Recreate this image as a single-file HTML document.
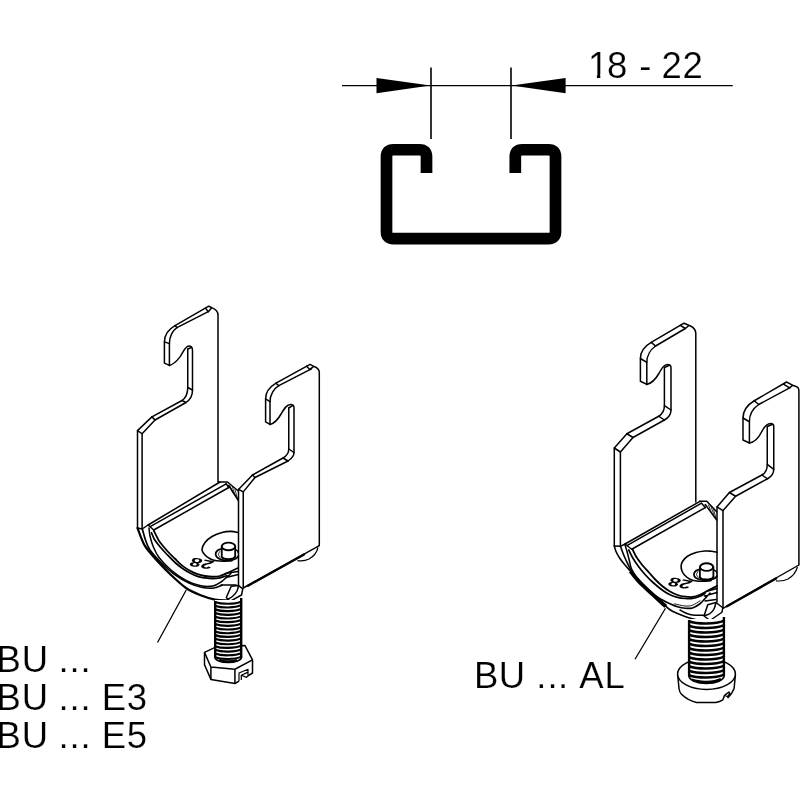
<!DOCTYPE html>
<html lang="en">
<head>
<meta charset="utf-8">
<title>BU clamp drawing</title>
<style>
html,body{margin:0;padding:0;background:#fff;}
body{width:800px;height:800px;overflow:hidden;}
svg{display:block;will-change:transform;filter:grayscale(1);}
</style>
</head>
<body>
<svg width="800" height="800" viewBox="0 0 800 800">
<rect width="800" height="800" fill="#fff"/>
<g id="dim" stroke="#000" stroke-width="1.3" fill="none">
<path d="M342,85.6 H732.8"/>
<path d="M431,67.5 V139 M511,67.5 V139" stroke-width="1.6"/>
<path d="M376.5,78 L430.5,85.6 L376.5,93.2 Z" fill="#000" stroke="none"/>
<path d="M565.6,78 L511.5,85.6 L565.6,93.2 Z" fill="#000" stroke="none"/>
</g>
<path id="cprofile" d="M426.5,173 V156.75 Q426.5,149.75 419.5,149.75 H393.5 Q386.5,149.75 386.5,156.75 V231.65 Q386.5,238.65 393.5,238.65 H548.5 Q555.5,238.65 555.5,231.65 V156.75 Q555.5,149.75 548.5,149.75 H522.3 Q515.3,149.75 515.3,156.75 V173" fill="none" stroke="#000" stroke-width="11.7" stroke-linejoin="round"/>
<g id="labels" font-family='"Liberation Sans", Arial, Helvetica, sans-serif' font-size="36.5" fill="#000" stroke="#fff" stroke-width="0.2">
<text y="77.5" x="588 607 627 639.2 651 661.5 682.6">18 - 22</text>
<text y="671.8" x="-3.6 21.75 48 58.5 69.5 80.5">BU ...</text>
<text y="709.7" x="-3.6 21.75 48 58.5 69.5 80.5 91 101.8 126.7">BU ... E3</text>
<text y="747.6" x="-3.6 21.75 48 58.5 69.5 80.5 91 101.8 126.7">BU ... E5</text>
<text y="688.4" x="473.9 498.75 525 536.25 547.4 558.1 569 579.2 604.5">BU ... AL</text>
</g>
<rect x="589.5" y="74.3" width="7.4" height="4.2" fill="#fff"/><rect x="600.3" y="74.3" width="7.6" height="4.2" fill="#fff"/>
<path d="M186.25,590 L157.5,642.5 M665.5,608.25 L635,659.25" stroke="#000" stroke-width="1.3" fill="none"/>
<g id="clampL" stroke="#000" stroke-width="1.5" fill="none" stroke-linejoin="round" stroke-linecap="round">
<path d="M218,482 V315 C218,311.8 215.5,309.3 212.3,307.9 L208.75,306.2 L175,325.6 C169,329 164.4,335 164.4,341.9 V363.1 L169.4,365.4"/>
<path d="M208.3,311.7 L176.9,327.6 C172.5,330.5 169.4,337 169.4,343.4 V365.4"/>
<path d="M205.6,308.2 L208.3,311.7 L211.3,308.3 M175,325.6 L176.9,327.6 M164.4,341.9 L169.4,343.6"/>
<path d="M169.4,365.4 C173.5,364.6 176.6,361.3 180,356.9 C182.8,353 183.8,349.3 186.6,347 C188.2,345.8 190,345.6 191.3,346.8 C192.2,347.7 192.5,349 192.5,350.6 V390 C192.5,395 190.5,399.5 186,402.5 L155,420 L142.1,433.75 V528"/>
<path d="M187.75,349 V387.5 C187.75,393 185.5,398 182,400.5 L151.9,416.9 L137.5,430.6 V528"/>
<path d="M187.75,387.5 L192.5,390 M182,400.5 L186,402.5 M151.9,416.9 L155,420 M137.5,430.6 L142.1,433.75 M187.75,349 L191.5,347.5"/>
<path d="M319.3,545.6 V372.6 C319.3,370 317.5,368 314.8,366.8 L310,364.4 L276,383.2 C270.5,386.5 265.6,392 265.6,398.8 V421.9 L270,424.4"/>
<path d="M311.4,368.8 L278.8,385.7 C274,388.5 270,395 270,401.6 V424.4"/>
<path d="M306.6,366.3 L309.8,369.6 L313.3,366.6 M276,383.2 L278.8,385.7 M265.6,398.8 L270,401.6"/>
<path d="M270,424.4 C275,423.5 278.5,418.5 281.25,413.75 C284,409 286.5,404.4 290.6,404.4 C292.5,404.4 294,405.5 294,407.5 V452.5 C294,456 291,459 288,461 L255,477.5 L243.25,491.9 V588"/>
<path d="M288.75,408 V449 C288.75,453 286.5,456 283,458 L252.5,475 L238.5,489.4 V588"/>
<path d="M288.75,449 L294,452.5 M283,458 L288,461 M252.5,475 L255,477.5 M238.5,489.4 L243.25,491.9 M288.75,408 L292.5,405.6"/>
</g>
<path d="M243.25,588 L319.3,545.6" stroke="#000" stroke-width="1.5" fill="none"/>
<path d="M248,585.7 L304,554.5" stroke="#000" stroke-width="2.4" fill="none" stroke-linecap="round"/>
<path d="M318,547.5 C317,552 313.5,556.5 309,559 C305.5,560.8 301,561 297.5,560.6" stroke="#000" stroke-width="1.2" fill="none"/>
<g id="saddleL" stroke="#000" stroke-width="1.5" fill="none" stroke-linejoin="round" stroke-linecap="round">
<path d="M148.1,525 L220,482 M150.6,526.4 L226.2,483.8 M153.75,530 L228.75,487.5" />
<path d="M218.5,482 L227.5,482 L238.3,491 M228.75,485.5 L238.3,500.5 M226.2,483.8 L228.75,487.5" />
<path d="M230,486 L233,493 M232.5,487.5 L235.5,496.5 M235,489.5 L237.5,499" stroke-width="0.8"/>
<path d="M137.5,528 L142.1,529 L148.1,525 M148.1,525 L153.75,530" />
<path d="M137.50,528.00 C138.17,529.75 140.08,535.25 141.50,538.50 C142.92,541.75 143.12,543.50 146.00,547.50 C148.88,551.50 154.58,557.92 158.75,562.50 C162.92,567.08 166.46,570.75 171.00,575.00 C175.54,579.25 181.17,584.67 186.00,588.00 C190.83,591.33 195.17,593.07 200.00,595.00 C204.83,596.93 210.50,598.72 215.00,599.60 C219.50,600.48 225.00,600.18 227.00,600.30" stroke-width="2.2"/>
<path d="M142.30,529.00 C142.83,530.83 144.22,536.50 145.50,540.00 C146.78,543.50 147.42,546.25 150.00,550.00 C152.58,553.75 157.00,558.50 161.00,562.50 C165.00,566.50 169.33,570.58 174.00,574.00 C178.67,577.42 184.25,580.75 189.00,583.00 C193.75,585.25 198.33,586.67 202.50,587.50 C206.67,588.33 210.75,588.38 214.00,588.00 C217.25,587.62 220.67,585.67 222.00,585.20" stroke-width="1.7"/>
<path d="M149.00,528.00 C149.17,529.33 149.33,533.00 150.00,536.00 C150.67,539.00 151.50,542.42 153.00,546.00 C154.50,549.58 156.00,553.50 159.00,557.50 C162.00,561.50 166.50,566.20 171.00,570.00 C175.50,573.80 181.00,577.67 186.00,580.30 C191.00,582.93 196.50,584.85 201.00,585.80 C205.50,586.75 209.67,586.63 213.00,586.00 C216.33,585.37 218.58,583.58 221.00,582.00 C223.42,580.42 226.42,577.42 227.50,576.50" />
<path d="M153.75,530.50 C154.38,531.75 156.46,536.04 157.50,538.00 C158.54,539.96 158.33,540.04 160.00,542.25 C161.67,544.46 165.00,548.50 167.50,551.25 C170.00,554.00 172.50,556.31 175.00,558.75 C177.50,561.19 180.00,563.90 182.50,565.90 C185.00,567.90 187.50,569.38 190.00,570.75 C192.50,572.12 195.00,573.23 197.50,574.10 C200.00,574.98 202.50,575.56 205.00,576.00 C207.50,576.44 210.00,576.75 212.50,576.75 C215.00,576.75 217.08,576.83 220.00,576.00 C222.92,575.17 227.00,573.08 230.00,571.75 C233.00,570.42 236.67,568.62 238.00,568.00" stroke-width="1.8"/>
<path d="M151.50,532.75 C152.00,533.88 153.08,537.17 154.50,539.50 C155.92,541.83 157.83,544.17 160.00,546.75 C162.17,549.33 165.00,552.38 167.50,555.00 C170.00,557.62 172.50,560.25 175.00,562.50 C177.50,564.75 180.00,566.75 182.50,568.50 C185.00,570.25 187.50,571.68 190.00,573.00 C192.50,574.32 195.00,575.58 197.50,576.40 C200.00,577.22 202.50,577.53 205.00,577.90 C207.50,578.27 210.00,578.62 212.50,578.60 C215.00,578.58 217.58,578.30 220.00,577.80 C222.42,577.30 225.83,575.97 227.00,575.60" stroke-width="1.7"/>
<path d="M238.30,532.60 C237.08,532.40 233.72,531.43 231.00,531.40 C228.28,531.37 225.17,531.55 222.00,532.40 C218.83,533.25 214.83,534.82 212.00,536.50 C209.17,538.18 206.67,540.33 205.00,542.50 C203.33,544.67 202.08,547.50 202.00,549.50 C201.92,551.50 203.17,552.95 204.50,554.50 C205.83,556.05 208.00,557.75 210.00,558.80 C212.00,559.85 214.00,560.40 216.50,560.80 C219.00,561.20 222.42,561.23 225.00,561.20 C227.58,561.17 230.83,560.70 232.00,560.60" stroke-width="1.6"/>
<path d="M221.75,546.4 V557 M235.2,546.4 V556.5" stroke-width="1.8"/>
<ellipse cx="228.5" cy="546.4" rx="6.75" ry="3.8" stroke-width="1.9"/>
<path d="M221.75,557 C224,560 233,560 235.2,556.5" stroke-width="1.9"/>
<path d="M221.50,549.00 C220.83,549.25 218.48,549.63 217.50,550.50 C216.52,551.37 215.52,552.95 215.60,554.20 C215.68,555.45 216.60,556.98 218.00,558.00 C219.40,559.02 221.83,559.92 224.00,560.30 C226.17,560.68 228.92,560.63 231.00,560.30 C233.08,559.97 235.28,559.02 236.50,558.30 C237.72,557.58 238.00,556.38 238.30,556.00" stroke-width="1.8"/>
<path d="M235.50,549.50 C235.85,549.75 237.13,550.42 237.60,551.00 C238.07,551.58 238.18,552.67 238.30,553.00" stroke-width="1.4"/>
<path d="M219.80,551.50 C219.57,552.00 218.37,553.58 218.40,554.50 C218.43,555.42 219.73,556.58 220.00,557.00" stroke-width="0.9"/>
<path d="M227.5,573 L238.3,571.5 M226,577.5 L238.3,574.5 M221,585 H236 M227.5,576.5 L231,573.5" />
<path d="M231.25,586.25 L238.5,585.6 L242.8,588.8 L241.5,595 L230,601.3 L226.3,597.5 Z" fill="#fff"/>
<path d="M238.50,585.60 C238.25,586.50 237.92,589.27 237.00,591.00 C236.08,592.73 234.50,594.62 233.00,596.00 C231.50,597.38 228.83,598.75 228.00,599.30" />
</g>
<text x="0" y="0" font-family='"Liberation Sans", Arial, Helvetica, sans-serif' font-size="12" font-weight="bold" fill="#000" transform="matrix(-1.68,-0.3,0.6,-1.0,215.2,561.2)">28</text>
<g id="hexL" stroke="#000" stroke-width="1.5" fill="#fff" stroke-linejoin="round">
<path d="M204.50,652.40 L214.60,647.60 L245.00,645.60 L252.50,659.90 L252.50,673.00 L234.90,683.50 L210.90,679.40 L204.50,664.75 Z" stroke="none"/>
<path d="M248,675.8 L252.5,673 V659.9 L245,645.6 L214.6,647.6 L204.5,652.4 V664.75 L210.9,679.4 L234.9,683.5 L239,681.2" fill="none"/>
<path d="M204.5,652.4 L210.9,667 L234.9,669.25 L252.5,659.9 M210.9,667 V679.4 M234.9,669.25 V683.5" fill="none"/>
<path d="M239,681.2 V673 L248,669.3 V675.8 M241.3,680 V675.3 L246.6,677.4 L248,675.8 M241.3,675.3 L247.5,672.4" fill="none" stroke-width="1.2"/>
</g>
<g stroke="#000" fill="none" stroke-linecap="butt">
<rect x="214.90" y="600.00" width="26.60" height="57.30" fill="#fff" stroke="none"/>
<ellipse cx="228.20" cy="657.30" rx="13.30" ry="5.20" fill="#fff" stroke-width="1.7"/>
<rect x="215.70" y="650.10" width="25.00" height="7.20" fill="#fff" stroke="none"/>
<path d="M215.20,601.00 V657.30 M241.20,598.00 V657.30" stroke-width="2.4"/>
<path d="M214.90,602.01 C221.55,604.47 234.85,604.47 241.50,601.41 M214.90,605.69 C221.55,608.15 234.85,608.15 241.50,605.09 M214.90,609.37 C221.55,611.83 234.85,611.83 241.50,608.77 M214.90,613.05 C221.55,615.51 234.85,615.51 241.50,612.45 M214.90,616.73 C221.55,619.19 234.85,619.19 241.50,616.13 M214.90,620.41 C221.55,622.87 234.85,622.87 241.50,619.81 M214.90,624.09 C221.55,626.55 234.85,626.55 241.50,623.49 M214.90,627.77 C221.55,630.23 234.85,630.23 241.50,627.17 M214.90,631.45 C221.55,633.91 234.85,633.91 241.50,630.85 M214.90,635.13 C221.55,637.59 234.85,637.59 241.50,634.53 M214.90,638.81 C221.55,641.27 234.85,641.27 241.50,638.21 M214.90,642.49 C221.55,644.95 234.85,644.95 241.50,641.89 M214.90,646.17 C221.55,648.63 234.85,648.63 241.50,645.57 M214.90,649.85 C221.55,652.31 234.85,652.31 241.50,649.25 M214.90,653.53 C221.55,655.99 234.85,655.99 241.50,652.93 M214.90,657.21 C221.55,659.67 234.85,659.67 241.50,656.61 M219.17,660.89 C223.69,661.32 232.71,661.32 237.23,660.29" stroke-width="2.15"/>
</g>
<g id="clampR" stroke="#000" stroke-width="1.5" fill="none" stroke-linejoin="round" stroke-linecap="round">
<path d="M695.8,502 V333.4 C695.8,330 693.5,327.5 690.5,326 L684,323.2 L651.2,342.4 C645,346 640.4,352 640.4,358.5 V381.25 L646.8,384.4" />
<path d="M685.3,328.5 L655.6,346 C650.5,349.5 646.8,356 646.8,362.4 V384.4" />
<path d="M680.4,325.3 L685.3,328.5 L688.4,326 M651.2,342.4 L655.6,346 M640.4,358.5 L646.8,362.4" />
<path d="M646.8,384.4 C653,383 656,378.5 658.75,373.75 C662,368 664,364.4 667.5,364.4 C669.5,364.4 671,365.5 671,367.5 V410 C671,414 669,417.5 664.4,420 L633,437.5 L620.4,452 V545.5" />
<path d="M664.4,367.5 V405.6 C664.4,410 662.5,414 658.75,416.25 L626.9,433.75 L614.3,448 V545.9" />
<path d="M664.4,405.6 L671,410 M658.75,416.25 L664.4,420 M626.9,433.75 L633,437.5 M614.3,448 L620.4,452 M664.4,367.5 L669.5,365.3" />
<path d="M798.9,565 V391 C798.9,388.5 797.5,386.8 795.5,386.3 L792.5,385.2 L786.5,382 L754.25,400.75 C748,404.5 743,410.5 743,418 V440 L749.4,443" />
<path d="M789.6,387.9 L758.75,404.5 C753.5,408 749.4,414.5 749.4,421.75 V443" />
<path d="M783.5,384.2 L789.6,387.9 L792.5,385.4 M754.25,400.75 L758.75,404.5 M743,418 L749.4,421.75" />
<path d="M749.4,443 C756,442 759,437 761.25,432.5 C764,427 766.5,423.5 770.6,423.5 C772.5,423.5 773.75,424.5 773.75,426.25 V469.4 C773.75,473.5 771.5,476.5 767.5,478.75 L735.6,496.25 L723,510.6 V608" />
<path d="M767.25,426.5 V464.4 C767.25,469 765.5,473 761.9,475 L729.4,492.5 L717,506.9 V602" />
<path d="M767.25,464.4 L773.75,469.4 M761.9,475 L767.5,478.75 M729.4,492.5 L735.6,496.25 M717,506.9 L723,510.6 M767.25,426.5 L772.5,424.3" />
</g>
<path d="M723,608.3 L798.9,565" stroke="#000" stroke-width="1.4" fill="none"/>
<path d="M727,606.3 L776,578.5" stroke="#000" stroke-width="2.4" fill="none" stroke-linecap="round"/>
<path d="M797.5,567 C796,572 792.5,576.5 788,579 C784.5,580.8 780,581.3 776,580.8" stroke="#000" stroke-width="1.2" fill="none"/>
<g id="saddleR" stroke="#000" stroke-width="1.5" fill="none" stroke-linejoin="round" stroke-linecap="round">
<path d="M625,544 L700,501.3 M627.3,545.3 L701.5,503.2 M631.75,549.25 L705.25,507.6" />
<path d="M699.5,501.3 H706.75 L716.7,511.75 M705.25,504.5 L716.7,520 M701.5,503.2 L705.25,507.6" />
<path d="M708.5,505 L711,511.5 M711,506.5 L714,515 M713.5,509 L716,518.5" stroke-width="0.8"/>
<path d="M614.3,545.9 L620.4,546.3 L625,544 M625,544 L631.75,549.25" />
<path d="M614.30,545.90 C614.58,546.83 615.09,549.44 616.00,551.50 C616.91,553.56 618.25,556.00 619.75,558.25 C621.25,560.50 623.25,562.88 625.00,565.00 C626.75,567.12 628.38,568.88 630.25,571.00 C632.12,573.12 634.25,575.50 636.25,577.75 C638.25,580.00 640.12,582.25 642.25,584.50 C644.38,586.75 646.88,589.17 649.00,591.25 C651.12,593.33 652.75,595.04 655.00,597.00 C657.25,598.96 660.00,600.88 662.50,603.00 C665.00,605.12 667.50,608.00 670.00,609.75 C672.50,611.50 675.00,612.38 677.50,613.50 C680.00,614.62 682.50,615.62 685.00,616.50 C687.50,617.38 690.00,618.12 692.50,618.75 C695.00,619.38 697.75,619.94 700.00,620.25 C702.25,620.56 705.00,620.54 706.00,620.60" stroke-width="1.6"/>
<path d="M620.50,546.25 C621.00,547.62 622.50,552.00 623.50,554.50 C624.50,557.00 625.38,558.88 626.50,561.25 C627.62,563.62 628.88,566.38 630.25,568.75 C631.62,571.12 633.12,573.38 634.75,575.50 C636.38,577.62 637.88,579.25 640.00,581.50 C642.12,583.75 645.00,586.67 647.50,589.00 C650.00,591.33 652.50,593.67 655.00,595.50 C657.50,597.33 660.00,598.62 662.50,600.00 C665.00,601.38 667.50,602.62 670.00,603.75 C672.50,604.88 675.00,606.00 677.50,606.75 C680.00,607.50 682.50,608.06 685.00,608.25 C687.50,608.44 690.00,608.65 692.50,607.90 C695.00,607.15 697.71,605.52 700.00,603.75 C702.29,601.98 705.21,598.33 706.25,597.25" stroke-width="1.6"/>
<path d="M625.00,544.75 C625.38,546.00 626.50,549.50 627.25,552.25 C628.00,555.00 628.79,558.50 629.50,561.25 C630.21,564.00 630.42,566.21 631.50,568.75 C632.58,571.29 634.42,574.21 636.00,576.50 C637.58,578.79 640.17,581.50 641.00,582.50" />
<path d="M632.50,549.25 C633.12,550.50 634.62,554.12 636.25,556.75 C637.88,559.38 640.12,562.38 642.25,565.00 C644.38,567.62 646.88,570.12 649.00,572.50 C651.12,574.88 652.75,576.95 655.00,579.25 C657.25,581.55 660.00,584.26 662.50,586.30 C665.00,588.34 667.50,590.05 670.00,591.50 C672.50,592.95 675.00,594.15 677.50,595.00 C680.00,595.85 682.50,596.27 685.00,596.60 C687.50,596.93 690.00,597.31 692.50,597.00 C695.00,596.69 697.42,595.83 700.00,594.75 C702.58,593.67 705.17,591.96 708.00,590.50 C710.83,589.04 715.50,586.75 717.00,586.00" stroke-width="1.8"/>
<path d="M628.75,550.00 C629.38,551.25 630.88,554.75 632.50,557.50 C634.12,560.25 636.38,563.62 638.50,566.50 C640.62,569.38 642.88,572.12 645.25,574.75 C647.62,577.38 649.88,579.67 652.75,582.25 C655.62,584.83 659.62,588.17 662.50,590.25 C665.38,592.33 667.50,593.56 670.00,594.75 C672.50,595.94 675.00,596.77 677.50,597.40 C680.00,598.02 682.50,598.32 685.00,598.50 C687.50,598.68 690.00,598.88 692.50,598.50 C695.00,598.12 697.92,597.08 700.00,596.25 C702.08,595.42 704.17,593.96 705.00,593.50" stroke-width="1.7"/>
<path d="M630.50,571.30 C631.33,572.35 633.92,575.70 635.50,577.60 C637.08,579.50 638.00,580.67 640.00,582.70 C642.00,584.73 645.00,587.47 647.50,589.80 C650.00,592.13 652.50,594.42 655.00,596.70 C657.50,598.98 660.70,601.88 662.50,603.50 C664.30,605.12 665.25,605.92 665.80,606.40" stroke-width="3.8" stroke-linecap="butt"/>
<path d="M680.00,610.00 C681.25,610.62 685.00,612.88 687.50,613.75 C690.00,614.62 692.25,615.00 695.00,615.25 C697.75,615.50 702.50,615.25 704.00,615.25" />
<path d="M674.50,603.80 C676.25,604.17 682.00,605.77 685.00,606.00 C688.00,606.23 690.00,606.07 692.50,605.20 C695.00,604.33 698.75,601.53 700.00,600.80" stroke-width="0.9"/>
<path d="M717.00,552.20 C716.00,552.03 713.04,551.40 711.00,551.20 C708.96,551.00 707.25,550.78 704.75,551.00 C702.25,551.22 698.88,551.62 696.00,552.50 C693.12,553.38 689.75,554.75 687.50,556.25 C685.25,557.75 683.57,559.88 682.50,561.50 C681.43,563.12 681.18,564.42 681.10,566.00 C681.02,567.58 681.43,569.50 682.00,571.00 C682.57,572.50 683.42,573.77 684.50,575.00 C685.58,576.23 687.17,577.52 688.50,578.40 C689.83,579.28 690.79,579.83 692.50,580.30 C694.21,580.77 696.46,581.05 698.75,581.20 C701.04,581.35 704.21,581.30 706.25,581.20 C708.29,581.10 710.21,580.70 711.00,580.60" stroke-width="1.6"/>
<path d="M699.9,567.1 V577.5 M713.4,567.1 V577" stroke-width="1.8"/>
<ellipse cx="706.6" cy="567.1" rx="6.6" ry="3.8" stroke-width="1.9"/>
<path d="M699.9,577.5 C702,580.3 711,580.3 713.4,577" stroke-width="1.9"/>
<path d="M699.70,569.30 C699.08,569.53 696.97,569.88 696.00,570.70 C695.03,571.53 693.90,573.03 693.90,574.25 C693.90,575.47 694.57,577.01 696.00,578.00 C697.43,578.99 700.33,579.83 702.50,580.20 C704.67,580.57 707.00,580.48 709.00,580.20 C711.00,579.92 713.17,579.20 714.50,578.50 C715.83,577.80 716.58,576.42 717.00,576.00" stroke-width="1.8"/>
<path d="M713.70,569.80 C714.08,570.05 715.45,570.72 716.00,571.30 C716.55,571.88 716.83,572.97 717.00,573.30" stroke-width="1.4"/>
<path d="M698.00,571.50 C697.77,572.00 696.57,573.55 696.60,574.50 C696.63,575.45 697.93,576.75 698.20,577.20" stroke-width="0.9"/>
<path d="M706,591.5 L717,588.5 M704.5,596 L717,592.5 M705,601 L716,599.5 M706.25,597.25 L710,593" />
<path d="M707.75,604.75 L716,602.5 L722.75,607.75 L722,612.25 L710,620.5 L704,616 Z" fill="#fff"/>
<path d="M716.00,602.50 C715.67,603.58 715.00,607.17 714.00,609.00 C713.00,610.83 711.50,612.42 710.00,613.50 C708.50,614.58 705.83,615.17 705.00,615.50" />
</g>
<text x="0" y="0" font-family='"Liberation Sans", Arial, Helvetica, sans-serif' font-size="12" font-weight="bold" fill="#000" transform="matrix(-1.68,-0.3,0.6,-1.0,693.6,580.9)">28</text>
<g id="headR" stroke="#000" stroke-width="1.5" fill="#fff" stroke-linejoin="round">
<path d="M677.6,675 L678.1,679 L679,688.5 C679.3,691 680,692.8 681.5,694.3 C685.5,698.3 690.5,701 696.5,702.4 L715.75,702.6 C718.5,702 721,701 722.75,699.9 L724.5,695.4 L729,692 L729.8,693.8 L728,697.6 C730.5,695.5 732.5,692.5 734.1,688.5 L735.4,675 Z" />
<ellipse cx="706.5" cy="674" rx="28.9" ry="15.4"/>
<path d="M724.5,695.4 L727.4,696.4 L729.8,693.8 M727.4,696.4 L728,697.6" fill="none" stroke-width="1.1"/>
</g>
<g stroke="#000" fill="none" stroke-linecap="butt">
<rect x="688.80" y="619.00" width="35.40" height="56.60" fill="#fff" stroke="none"/>
<ellipse cx="706.50" cy="675.60" rx="17.70" ry="7.80" fill="#fff" stroke-width="1.7"/>
<rect x="689.60" y="665.80" width="33.80" height="9.80" fill="#fff" stroke="none"/>
<path d="M689.10,620.00 V675.60 M723.90,617.00 V675.60" stroke-width="2.4"/>
<path d="M688.80,621.20 C697.65,624.39 715.35,624.39 724.20,620.60 M688.80,625.70 C697.65,628.89 715.35,628.89 724.20,625.10 M688.80,630.20 C697.65,633.39 715.35,633.39 724.20,629.60 M688.80,634.70 C697.65,637.89 715.35,637.89 724.20,634.10 M688.80,639.20 C697.65,642.39 715.35,642.39 724.20,638.60 M688.80,643.70 C697.65,646.89 715.35,646.89 724.20,643.10 M688.80,648.20 C697.65,651.39 715.35,651.39 724.20,647.60 M688.80,652.70 C697.65,655.89 715.35,655.89 724.20,652.10 M688.80,657.20 C697.65,660.39 715.35,660.39 724.20,656.60 M688.80,661.70 C697.65,664.89 715.35,664.89 724.20,661.10 M688.80,666.20 C697.65,669.39 715.35,669.39 724.20,665.60 M688.80,670.70 C697.65,673.89 715.35,673.89 724.20,670.10 M688.80,675.20 C697.65,678.39 715.35,678.39 724.20,674.60 M692.04,679.70 C699.27,682.74 713.73,682.74 720.96,679.10" stroke-width="2.5"/>
</g>
</svg>
</body>
</html>
